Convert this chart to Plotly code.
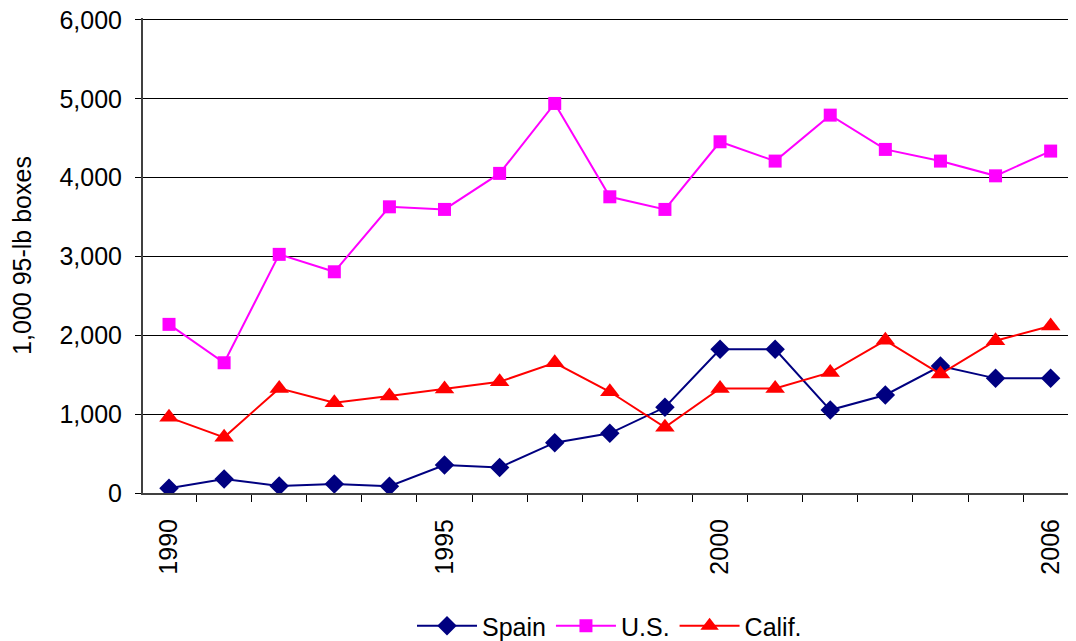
import plotly.graph_objects as go

years = list(range(1990, 2007))
spain = [60, 177, 89, 114, 85, 355, 325, 638, 757, 1087, 1822, 1822, 1052, 1243, 1610, 1454, 1454]
us = [2139, 1652, 3027, 2806, 3630, 3597, 4054, 4941, 3757, 3597, 4455, 4210, 4793, 4358, 4210, 4023, 4337]
calif = [960, 706, 1327, 1145, 1230, 1319, 1411, 1652, 1284, 833, 1327, 1327, 1530, 1936, 1509, 1932, 2118]

x_labels = [1990, 1995, 2000, 2006]
y_ticks = [0, 1000, 2000, 3000, 4000, 5000, 6000]

FONT = "Arial, Liberation Sans, sans-serif"

fig = go.Figure()
fig.add_trace(go.Scatter(x=years, y=spain, name="Spain", mode="lines+markers",
                         line=dict(color="#000080", width=2),
                         marker=dict(symbol="diamond", size=15, color="#000080")))
fig.add_trace(go.Scatter(x=years, y=us, name="U.S.", mode="lines+markers",
                         line=dict(color="#FF00FF", width=2),
                         marker=dict(symbol="square", size=13, color="#FF00FF")))
fig.add_trace(go.Scatter(x=years, y=calif, name="Calif.", mode="lines+markers",
                         line=dict(color="#FF0000", width=2),
                         marker=dict(symbol="triangle-up", size=17, color="#FF0000")))

fig.update_layout(
    width=1068, height=633,
    margin=dict(l=135, r=0, t=10, b=148, autoexpand=False),
    paper_bgcolor="white", plot_bgcolor="white",
    font=dict(family=FONT, size=25, color="black"),
    showlegend=True,
    legend=dict(orientation="h", x=0.5, xanchor="center", y=-0.28, yanchor="middle",
                font=dict(family=FONT, size=25, color="black"), itemwidth=60,
                traceorder="normal"),
    xaxis=dict(
        range=[1989.528, 2006.46],
        automargin=False,
        tickmode="array", tickvals=x_labels, ticktext=[str(v) for v in x_labels],
        tickangle=-90, ticks="outside", ticklen=14, tickcolor="rgba(0,0,0,0)",
        tickfont=dict(family=FONT, size=25, color="black"),
        showgrid=False, zeroline=False,
        showline=True, linecolor="#404040", linewidth=2,
        minor=dict(tickmode="array", tickvals=[y - 0.5 for y in years] + [2006.5],
                   ticks="outside", ticklen=7, tickcolor="black", tickwidth=1, showgrid=False),
    ),
    yaxis=dict(
        range=[0, 6025],
        automargin=False,
        tickmode="array", tickvals=y_ticks, ticktext=[f"{v:,}" for v in y_ticks],
        ticks="outside", ticklen=6, tickcolor="black", ticklabelstandoff=8,
        ticklabeloverflow="allow",
        tickfont=dict(family=FONT, size=25, color="black"),
        showgrid=True, gridcolor="black", gridwidth=1,
        zeroline=False,
        showline=True, linecolor="#404040", linewidth=2,
        title=dict(text="1,000 95-lb boxes", font=dict(family=FONT, size=25, color="black"),
                   standoff=22),
    ),
)

fig.write_html("out.html")
